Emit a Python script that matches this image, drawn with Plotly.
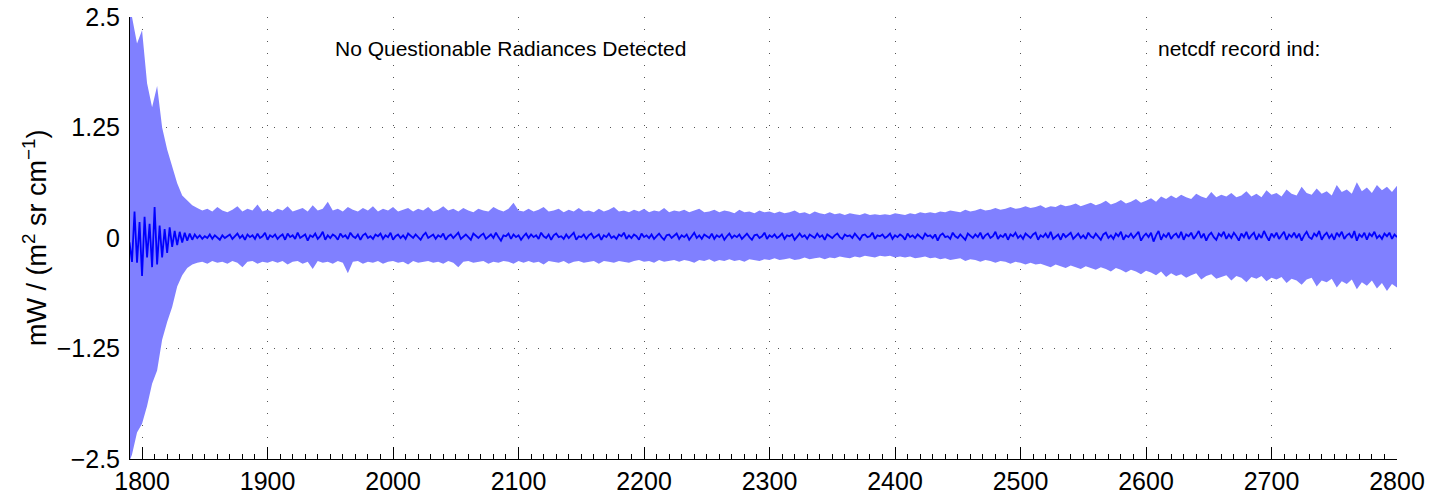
import plotly.graph_objects as go

# ---------------- data ----------------
# dark-blue mean spectrum, sampled every 2 cm-1 from 1790 to 2800
line_start, line_step = 1790, 2
mean_vals = [
    -0.05, -0.27, 0.30, -0.28, 0.18, -0.43, 0.24, -0.22, 0.16, -0.33, 0.35, -0.30, 0.14, -0.22, 0.10, -0.17, 0.12, -0.10, 0.08, -0.08,
    0.07, -0.05, 0.06, -0.03, 0.05, -0.02, 0.04, 0.00, 0.03, -0.01, 0.02, 0.00, 0.04, -0.01, 0.03, 0.01, -0.02, 0.03, 0.00, 0.02,
    0.04, -0.01, 0.02, 0.05, 0.00, 0.03, -0.02, 0.04, 0.01, 0.03, -0.01, 0.05, 0.00, 0.02, 0.06, -0.02, 0.03, 0.01, 0.04, -0.01,
    0.02, 0.04, -0.02, 0.05, 0.01, 0.03, -0.01, 0.06, 0.00, 0.02, 0.04, -0.03, 0.03, 0.01, 0.05, -0.01, 0.02, 0.07, -0.02, 0.03,
    0.00, 0.04, 0.02, -0.02, 0.05, 0.01, 0.03, -0.01, 0.06, 0.02, 0.00, 0.04, -0.02, 0.03, 0.05, 0.00, 0.02, -0.01, 0.04, 0.02,
    0.05, -0.01, 0.03, 0.01, 0.06, -0.02, 0.02, 0.04, 0.00, 0.03, -0.01, 0.05, 0.02, 0.00, 0.04, 0.01, -0.02, 0.03, 0.06, 0.00,
    0.02, 0.04, -0.01, 0.03, 0.01, 0.05, -0.02, 0.02, 0.04, 0.00, 0.03, 0.06, -0.01, 0.02, 0.04, 0.01, -0.02, 0.05, 0.02, 0.00,
    0.03, 0.05, -0.01, 0.02, 0.04, 0.00, 0.06, 0.01, -0.03, 0.03, 0.02, 0.05, -0.01, 0.04, 0.01, 0.03, -0.02, 0.02, 0.05, 0.00,
    0.04, 0.01, 0.03, -0.01, 0.06, 0.02, 0.00, 0.04, -0.02, 0.03, 0.05, 0.01, 0.02, -0.01, 0.04, 0.00, 0.03, 0.06, -0.02, 0.02,
    0.01, 0.04, -0.01, 0.03, 0.05, 0.00, 0.02, 0.04, -0.02, 0.03, 0.01, 0.05, 0.00, 0.02, -0.01, 0.04, 0.02, 0.06, -0.01, 0.03,
    0.00, 0.04, 0.02, -0.02, 0.05, 0.01, 0.03, 0.00, 0.04, -0.01, 0.02, 0.05, 0.01, -0.02, 0.03, 0.04, 0.00, 0.02, 0.05, -0.01,
    0.03, 0.01, 0.04, -0.02, 0.02, 0.06, 0.00, 0.03, -0.01, 0.04, 0.02, 0.00, 0.05, -0.01, 0.03, 0.01, 0.04, -0.02, 0.02, 0.05,
    0.00, 0.03, 0.01, 0.04, -0.01, 0.02, 0.05, 0.01, -0.02, 0.03, 0.04, 0.00, 0.02, 0.06, -0.01, 0.03, 0.01, 0.04, 0.00, 0.02,
    0.05, -0.01, 0.03, 0.02, 0.04, -0.02, 0.02, 0.05, 0.01, 0.03, -0.01, 0.04, 0.02, 0.00, 0.05, 0.01, 0.03, -0.02, 0.04, 0.02,
    0.00, 0.03, 0.05, 0.01, -0.01, 0.04, 0.02, 0.03, 0.00, 0.05, 0.01, -0.02, 0.03, 0.04, 0.01, 0.02, 0.06, -0.01, 0.03, 0.02,
    0.04, 0.00, 0.02, 0.05, -0.01, 0.03, 0.01, 0.04, 0.02, -0.02, 0.05, 0.01, 0.03, 0.00, 0.04, 0.02, -0.01, 0.05, 0.02, 0.03,
    0.00, 0.04, -0.03, 0.03, 0.05, 0.01, 0.02, -0.01, 0.06, 0.02, 0.00, 0.04, 0.01, -0.02, 0.05, 0.03, 0.00, 0.04, 0.01, 0.06,
    -0.01, 0.03, 0.05, 0.00, 0.02, 0.07, -0.01, 0.03, 0.01, 0.05, -0.02, 0.04, 0.02, 0.06, 0.00, 0.03, -0.01, 0.05, 0.02, 0.00,
    0.04, 0.06, -0.02, 0.03, 0.01, 0.05, 0.00, 0.07, -0.01, 0.02, 0.04, -0.02, 0.05, 0.01, 0.03, 0.06, -0.01, 0.02, 0.05, 0.00,
    0.03, -0.01, 0.06, 0.02, 0.00, 0.05, 0.01, -0.02, 0.04, 0.06, 0.00, 0.03, -0.01, 0.05, 0.02, 0.07, -0.02, 0.03, 0.01, 0.05,
    0.00, 0.04, 0.07, -0.03, 0.02, 0.05, 0.01, 0.06, -0.04, 0.03, 0.08, -0.02, 0.04, 0.01, 0.06, -0.01, 0.03, 0.05, 0.00, 0.07,
    -0.02, 0.04, 0.02, 0.06, -0.01, 0.03, 0.08, 0.00, 0.05, -0.03, 0.03, 0.06, 0.01, -0.02, 0.05, 0.02, 0.07, -0.01, 0.04, 0.00,
    0.06, 0.02, -0.03, 0.05, 0.01, 0.07, -0.01, 0.03, 0.06, -0.02, 0.04, 0.00, 0.08, 0.02, -0.03, 0.05, 0.01, 0.06, -0.01, 0.03,
    0.07, -0.02, 0.04, 0.01, 0.06, 0.00, 0.05, -0.03, 0.03, 0.07, 0.01, -0.01, 0.05, 0.02, 0.08, -0.02, 0.03, 0.06, 0.00, 0.04,
    -0.02, 0.06, 0.02, 0.07, -0.01, 0.03, 0.05, 0.00, 0.08, -0.03, 0.04, 0.01, 0.06, -0.02, 0.05, 0.02, 0.07, 0.00, 0.03, -0.01,
    0.05, 0.02, 0.06, -0.01, 0.04, 0.01,
]

# light-blue envelope, sampled every 4 cm-1 from 1788 to 2800
env_start, env_step = 1788, 4
env_upper = [
    2.60, 2.50, 2.20, 2.35, 1.75, 1.48, 1.72, 1.25, 1.00, 0.82,
    0.62, 0.48, 0.42, 0.37, 0.34, 0.31, 0.33, 0.30, 0.35, 0.31,
    0.29, 0.32, 0.36, 0.30, 0.33, 0.31, 0.38, 0.30, 0.32, 0.29,
    0.33, 0.31, 0.36, 0.30, 0.32, 0.34, 0.30, 0.37, 0.31, 0.33,
    0.41, 0.31, 0.33, 0.30, 0.35, 0.32, 0.30, 0.34, 0.31, 0.36,
    0.30, 0.33, 0.31, 0.35, 0.30, 0.32, 0.34, 0.30, 0.33, 0.31,
    0.35, 0.30, 0.32, 0.36, 0.31, 0.33, 0.30, 0.34, 0.31, 0.29,
    0.33, 0.31, 0.30, 0.35, 0.32, 0.30, 0.33, 0.40, 0.31, 0.30,
    0.33, 0.30, 0.32, 0.35, 0.30, 0.31, 0.33, 0.29, 0.32, 0.30,
    0.34, 0.30, 0.31, 0.29, 0.33, 0.30, 0.32, 0.35, 0.30, 0.31,
    0.29, 0.32, 0.30, 0.33, 0.29, 0.31, 0.30, 0.34, 0.29, 0.31,
    0.30, 0.32, 0.29, 0.31, 0.33, 0.29, 0.30, 0.32, 0.29, 0.31,
    0.30, 0.28, 0.32, 0.29, 0.30, 0.28, 0.31, 0.29, 0.30, 0.28,
    0.30, 0.28, 0.29, 0.31, 0.28, 0.29, 0.27, 0.30, 0.28, 0.27,
    0.29, 0.27, 0.28, 0.26, 0.28, 0.27, 0.26, 0.28, 0.26, 0.27,
    0.26, 0.27, 0.26, 0.28, 0.27, 0.26, 0.28, 0.27, 0.29, 0.28,
    0.29, 0.28, 0.30, 0.29, 0.31, 0.30, 0.29, 0.32, 0.30, 0.31,
    0.33, 0.31, 0.32, 0.34, 0.32, 0.33, 0.35, 0.33, 0.34, 0.36,
    0.34, 0.35, 0.37, 0.34, 0.36, 0.35, 0.38, 0.36, 0.37, 0.39,
    0.36, 0.38, 0.40, 0.37, 0.39, 0.42, 0.38, 0.40, 0.43, 0.39,
    0.41, 0.44, 0.40, 0.42, 0.45, 0.41, 0.47, 0.44, 0.48, 0.45,
    0.49, 0.46, 0.44, 0.50, 0.47, 0.45, 0.52, 0.46, 0.49, 0.47,
    0.51, 0.46, 0.48, 0.53, 0.47, 0.50, 0.46, 0.54, 0.49, 0.51,
    0.47, 0.55, 0.50, 0.48, 0.58, 0.51, 0.49, 0.56, 0.50, 0.53,
    0.48, 0.60, 0.52, 0.55, 0.50, 0.63, 0.53, 0.57, 0.51, 0.60,
    0.54, 0.58, 0.52, 0.59,
]
env_lower = [
    -2.60, -2.45, -2.20, -2.10, -1.90, -1.65, -1.50, -1.15, -0.95, -0.78,
    -0.55, -0.42, -0.34, -0.30, -0.28, -0.27, -0.29, -0.26, -0.28, -0.27,
    -0.29, -0.26, -0.28, -0.33, -0.27, -0.26, -0.29, -0.27, -0.28, -0.26,
    -0.28, -0.26, -0.30, -0.27, -0.26, -0.29, -0.27, -0.35, -0.26, -0.28,
    -0.27, -0.29, -0.26, -0.28, -0.40, -0.27, -0.26, -0.29, -0.27, -0.28,
    -0.26, -0.29, -0.27, -0.26, -0.28, -0.27, -0.30, -0.26, -0.28, -0.27,
    -0.26, -0.28, -0.27, -0.29, -0.26, -0.28, -0.33, -0.27, -0.26, -0.28,
    -0.27, -0.26, -0.29, -0.27, -0.28, -0.26, -0.27, -0.29, -0.26, -0.28,
    -0.26, -0.28, -0.27, -0.30, -0.26, -0.27, -0.28, -0.26, -0.29, -0.27,
    -0.26, -0.28, -0.27, -0.26, -0.29, -0.26, -0.27, -0.28, -0.26, -0.27,
    -0.28, -0.26, -0.25, -0.27, -0.26, -0.28, -0.25, -0.27, -0.26, -0.25,
    -0.27, -0.25, -0.26, -0.28, -0.25, -0.26, -0.24, -0.27, -0.25, -0.26,
    -0.24, -0.26, -0.25, -0.27, -0.24, -0.25, -0.26, -0.24, -0.25, -0.23,
    -0.25, -0.24, -0.23, -0.25, -0.24, -0.22, -0.24, -0.23, -0.22, -0.24,
    -0.22, -0.23, -0.21, -0.22, -0.23, -0.21, -0.22, -0.20, -0.21, -0.22,
    -0.20, -0.21, -0.20, -0.22, -0.21, -0.22, -0.21, -0.23, -0.22, -0.21,
    -0.23, -0.22, -0.24, -0.23, -0.25, -0.24, -0.23, -0.26, -0.24, -0.25,
    -0.27, -0.25, -0.26, -0.28, -0.26, -0.27, -0.29, -0.27, -0.28, -0.30,
    -0.28, -0.30, -0.29, -0.31, -0.33, -0.30, -0.32, -0.34, -0.31, -0.33,
    -0.35, -0.32, -0.34, -0.36, -0.33, -0.35, -0.38, -0.34, -0.36, -0.39,
    -0.36, -0.38, -0.41, -0.37, -0.39, -0.42, -0.38, -0.44, -0.40, -0.43,
    -0.41, -0.45, -0.42, -0.40, -0.47, -0.43, -0.41, -0.46, -0.44, -0.42,
    -0.48, -0.43, -0.45, -0.50, -0.44, -0.46, -0.43, -0.49, -0.45, -0.47,
    -0.44, -0.51, -0.46, -0.48, -0.53, -0.47, -0.45, -0.55, -0.48, -0.50,
    -0.46, -0.56, -0.49, -0.52, -0.47, -0.58, -0.50, -0.54, -0.48, -0.57,
    -0.51, -0.60, -0.52, -0.56,
]

y_tick_vals = [-2.5, -1.25, 0, 1.25, 2.5]
x_tick_vals = [1800, 1900, 2000, 2100, 2200, 2300, 2400, 2500, 2600, 2700, 2800]
status_text = "No Questionable Radiances Detected"
record_text = "netcdf record ind:"
y_title = "mW / (m<sup>2</sup> sr cm<sup>−1</sup>)"

# ---------------- figure ----------------
line_x = [line_start + line_step * i for i in range(len(mean_vals))]
env_x = [env_start + env_step * i for i in range(len(env_upper))]

FONT = "Liberation Sans, Arial, Helvetica, sans-serif"

fig = go.Figure()
fig.add_trace(go.Scatter(x=env_x, y=env_lower, mode="lines",
                         line=dict(width=0, color="#8080ff"),
                         showlegend=False, hoverinfo="skip"))
fig.add_trace(go.Scatter(x=env_x, y=env_upper, mode="lines", fill="tonexty",
                         fillcolor="#8080ff", line=dict(width=0, color="#8080ff"),
                         showlegend=False, hoverinfo="skip"))
fig.add_trace(go.Scatter(x=line_x, y=mean_vals, mode="lines",
                         line=dict(width=1.8, color="#0000ff"),
                         showlegend=False))

fig.update_layout(
    template="none",
    width=1443, height=497,
    margin=dict(l=130, r=46, t=17, b=38, pad=0, autoexpand=False),
    paper_bgcolor="white", plot_bgcolor="white",
    font=dict(family=FONT, size=25, color="black"),
    showlegend=False,
)
fig.update_xaxes(
    range=[1790.4, 2800], tickvals=x_tick_vals, automargin=False,
    showline=True, linecolor="black", linewidth=1, mirror=False,
    ticks="inside", ticklen=12, tickcolor="black", tickwidth=1,
    showgrid=True, gridcolor="#555555", gridwidth=1, griddash="1px,11px",
    zeroline=False, layer="below traces",
    tickfont=dict(family=FONT, size=25, color="black"),
    minor=dict(dtick=10, tick0=1800, ticks="inside", ticklen=5,
               tickcolor="black", tickwidth=1, showgrid=False),
)
fig.update_yaxes(
    range=[-2.5, 2.5], tickvals=y_tick_vals, automargin=False,
    showline=True, linecolor="black", linewidth=1, mirror=False,
    ticks="inside", ticklen=12, tickcolor="black", tickwidth=1,
    showgrid=True, gridcolor="#555555", gridwidth=1, griddash="1px,11px",
    zeroline=False, layer="below traces", ticklabelstandoff=4,
    tickfont=dict(family=FONT, size=25, color="black"),
)

fig.add_annotation(text=y_title, xref="paper", yref="paper",
                   x=(35 - 130) / 1267, y=0.5, xanchor="center", yanchor="middle",
                   textangle=-90, showarrow=False,
                   font=dict(family=FONT, size=27, color="black"))
fig.add_annotation(text=status_text, xref="paper", yref="paper",
                   x=(333 - 130) / 1267, y=1 - (49 - 17) / 442,
                   xanchor="left", yanchor="middle", showarrow=False,
                   font=dict(family=FONT, size=21, color="black"))
fig.add_annotation(text=record_text, xref="paper", yref="paper",
                   x=(1156 - 130) / 1267, y=1 - (49 - 17) / 442,
                   xanchor="left", yanchor="middle", showarrow=False,
                   font=dict(family=FONT, size=21, color="black"))

fig.write_html(
    "out.html",
    config={"displayModeBar": False},
    post_script="document.body.style.margin='0';document.body.style.overflow='hidden';",
)
